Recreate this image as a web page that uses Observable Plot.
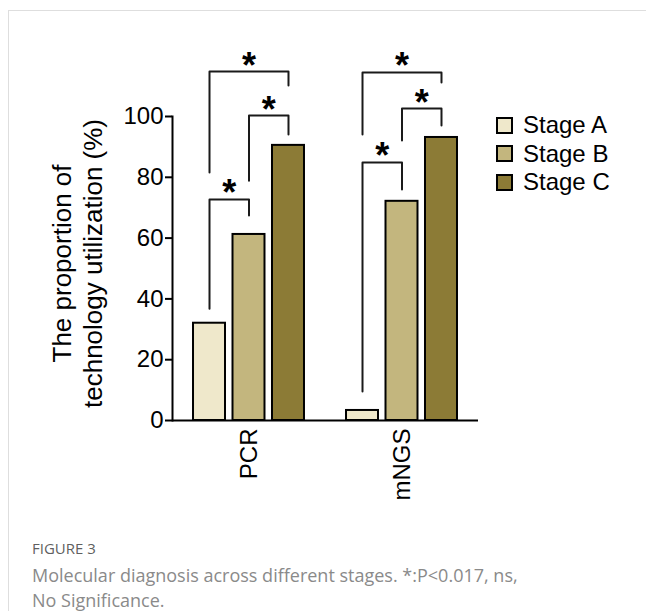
<!DOCTYPE html>
<html>
<head>
<meta charset="utf-8">
<script src="https://cdn.jsdelivr.net/npm/d3@7"></script>
<script src="https://cdn.jsdelivr.net/npm/@observablehq/plot@0.6"></script>
<style>
  html, body { margin: 0; padding: 0; background: #fff; }
  #page { position: relative; width: 646px; height: 611px; overflow: hidden; background: #fff; }
  #card { position: absolute; left: 8px; top: 10px; width: 700px; height: 700px; border-top: 1px solid #dedede; border-left: 1px solid #dedede; }
  #chart { position: absolute; left: 0; top: 0; }
  #legend { position: absolute; left: 496px; top: 111px; font-family: "Liberation Sans", Arial, sans-serif; font-size: 24px; color: #000; }
  .row { display: flex; align-items: center; height: 28.5px; }
  .sw { width: 13px; height: 13px; border: 2px solid #000; margin-right: 10px; }
  #fig { position: absolute; left: 32px; top: 537px; font-family: "Open Sans", sans-serif; font-size: 15px; line-height: 22px; color: #5f5f5f; }
  #cap { position: absolute; left: 32px; top: 563px; font-family: "Open Sans", sans-serif; font-size: 18px; line-height: 25px; color: #8a8a8a; width: 560px; }
</style>
</head>
<body>
<div id="page">
  <div id="card"></div>
  <div id="chart"></div>
  <div id="legend"></div>
  <div id="fig">FIGURE 3</div>
  <div id="cap">Molecular diagnosis across different stages. *:P&lt;0.017, ns,<br>No Significance.</div>
</div>
<script>
const categories = ["PCR", "mNGS"];
const stages = ["Stage A", "Stage B", "Stage C"];
const pcrValues = [32, 61.2, 90.5];
const mngsValues = [3.3, 72.1, 93.1];
const stageColors = ["#efe8cb", "#c3b67e", "#8c7b36"];
const yTicks = [0, 20, 40, 60, 80, 100];
const yTitle = "The proportion of\ntechnology utilization (%)";

// significance brackets: category, from stage, to stage, bracket top, leg ends, label
const bracketCategory = ["PCR", "PCR", "PCR", "mNGS", "mNGS", "mNGS"];
const bracketFrom = ["Stage A", "Stage B", "Stage A", "Stage A", "Stage B", "Stage A"];
const bracketTo = ["Stage B", "Stage C", "Stage C", "Stage B", "Stage C", "Stage C"];
const bracketTop = [72.7, 100.3, 114.8, 84.9, 102.6, 114.5];
const bracketFromEnd = [36.8, 78.9, 81.6, 9.5, 92.1, 94.1];
const bracketToEnd = [67.4, 94.1, 110.2, 76.0, 97.0, 111.2];
const bracketLabel = ["*", "*", "*", "*", "*", "*"];

const seriesValues = [pcrValues, mngsValues];
const rows = categories.flatMap((c, i) => stages.map((s, j) => ({category: c, stage: s, value: seriesValues[i][j]})));

const brackets = bracketCategory.map((c, k) => ({
  id: k, category: c, from: bracketFrom[k], to: bracketTo[k],
  top: bracketTop[k], fromEnd: bracketFromEnd[k], toEnd: bracketToEnd[k], label: bracketLabel[k],
  span: stages.indexOf(bracketTo[k]) - stages.indexOf(bracketFrom[k]),
  mid: stages[(stages.indexOf(bracketTo[k]) + stages.indexOf(bracketFrom[k])) / 2]
}));
const bracketPts = brackets.flatMap(b => [
  {id: b.id, category: b.category, stage: b.from, y: b.fromEnd},
  {id: b.id, category: b.category, stage: b.from, y: b.top},
  {id: b.id, category: b.category, stage: b.to, y: b.top},
  {id: b.id, category: b.category, stage: b.to, y: b.toEnd}
]);

const W = 646, H = 510;
const mL = 172, mR = 168, mT = 116, mB = 90;
const pIn = 0.19, pOut = 0.532;
const facetW = (W - mL - mR) / categories.length;
const step = facetW / (stages.length - pIn + 2 * pOut);

const font = "'Liberation Sans', Arial, sans-serif";

const chart = Plot.plot({
  width: W, height: H,
  marginLeft: mL, marginRight: mR, marginTop: mT, marginBottom: mB,
  style: {fontFamily: font, color: "#000", background: "transparent", overflow: "visible"},
  fx: {domain: categories, padding: 0, round: false, label: null},
  x: {domain: stages, paddingInner: pIn, paddingOuter: pOut, round: false, axis: null},
  y: {domain: [0, 100], label: null},
  color: {domain: stages, range: stageColors},
  marks: [
    Plot.barY(rows, {fx: "category", x: "stage", y: "value", fill: "stage", stroke: "#000", strokeWidth: 2}),
    Plot.ruleY([0], {stroke: "#000", strokeWidth: 2}),
    Plot.frame({anchor: "left", facetAnchor: "left", stroke: "#000", strokeWidth: 2}),
    Plot.axisY({ticks: yTicks, tickSize: 7, tickPadding: 2, fontSize: 24, strokeWidth: 2, label: null, anchor: "left"}),
    Plot.axisFx({anchor: "bottom", tickRotate: -90, tickSize: 0, tickPadding: 8, fontSize: 24, label: null}),
    Plot.text([yTitle], {text: d => d, frameAnchor: "left", facetAnchor: "left", rotate: -90, textAnchor: "middle", lineAnchor: "top", dx: -124, dy: -5, fontSize: 26, lineHeight: 1.2, fill: "#000"}),
    Plot.line(bracketPts, {fx: "category", x: "stage", y: "y", z: "id", stroke: "#1a1a1a", strokeWidth: 2}),
    Plot.text(brackets.filter(b => b.span === 1), {fx: "category", x: "from", y: "top", text: "label", dx: step / 2, dy: 6, lineAnchor: "bottom", fontSize: 36, fontWeight: "bold", fill: "#000"}),
    Plot.text(brackets.filter(b => b.span === 2), {fx: "category", x: "mid", y: "top", text: "label", dy: 6, lineAnchor: "bottom", fontSize: 36, fontWeight: "bold", fill: "#000"})
  ]
});
document.getElementById("chart").append(chart);

const legend = document.getElementById("legend");
stages.forEach((s, i) => {
  const row = document.createElement("div");
  row.className = "row";
  const sw = document.createElement("div");
  sw.className = "sw";
  sw.style.background = stageColors[i];
  const t = document.createElement("span");
  t.textContent = s;
  row.append(sw, t);
  legend.append(row);
});
</script>
</body>
</html>
